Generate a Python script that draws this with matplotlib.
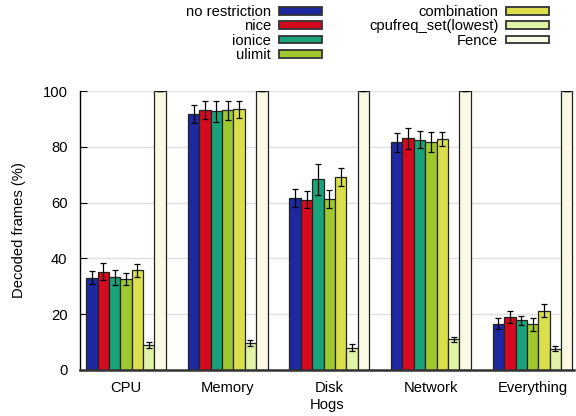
import numpy as np
import matplotlib
matplotlib.use('Agg')
import matplotlib.pyplot as plt

plt.rcParams['font.family'] = ['Liberation Sans', 'DejaVu Sans']
plt.rcParams['font.size'] = 10.6

hogs = ['CPU', 'Memory', 'Disk', 'Network', 'Everything']
series = ['no restriction', 'nice', 'ionice', 'ulimit',
          'combination', 'cpufreq_set(lowest)', 'Fence']
colors = ['#1e28a0', '#d50a1f', '#1aa37a', '#9ec82e',
          '#dbdf4b', '#e1f3a6', '#fafae4']

# decoded frames (%) per series, one value per hog
no_restriction = [33.1, 91.9, 61.6, 81.6, 16.6]
nice = [35.2, 93.1, 61.1, 83.0, 19.0]
ionice = [33.2, 92.7, 68.3, 82.6, 17.7]
ulimit = [32.5, 93.1, 61.4, 81.7, 16.4]
combination = [35.7, 93.4, 69.2, 82.8, 21.2]
cpufreq = [9.0, 9.7, 7.9, 10.9, 7.5]
fence = [100, 100, 100, 100, 100]

err_no_restriction = [2.3, 3.2, 3.2, 3.4, 2.1]
err_nice = [3.1, 3.2, 3.2, 3.6, 2.2]
err_ionice = [2.6, 3.8, 5.6, 3.0, 1.7]
err_ulimit = [2.2, 3.4, 3.2, 3.7, 2.3]
err_combination = [2.3, 3.2, 3.2, 2.4, 2.3]
err_cpufreq = [1.0, 1.1, 1.3, 1.0, 0.9]
err_fence = [0, 0, 0, 0, 0]

values = [no_restriction, nice, ionice, ulimit, combination, cpufreq, fence]
errors = [err_no_restriction, err_nice, err_ionice, err_ulimit,
          err_combination, err_cpufreq, err_fence]

fig = plt.figure(figsize=(5.76, 4.16), dpi=100)
ax = fig.add_axes([0.139, 0.111, 0.858, 0.670])

x = np.arange(len(hogs))
w = 0.112
for i in range(len(series)):
    pos = x + (i - 3) * w
    ax.bar(pos, values[i], w, color=colors[i], edgecolor='#222222',
           linewidth=0.9, label=series[i], zorder=2)
    ax.errorbar(pos, values[i], yerr=errors[i], fmt='none', ecolor='black',
                elinewidth=0.9, capsize=2.5, capthick=0.9, zorder=3)

ax.set_xlim(-0.452, 4.41)
ax.set_ylim(0, 100)
ax.set_yticks([0, 20, 40, 60, 80, 100])
ax.set_xticks(x)
ax.set_xticklabels(hogs)
ax.tick_params(axis='x', length=0, pad=8)
ax.tick_params(axis='y', direction='in', length=5, pad=9)
ax.yaxis.grid(True, color='#e0e0e0', linewidth=1, zorder=0)
ax.set_axisbelow(True)
ax.spines['top'].set_visible(False)
ax.spines['right'].set_visible(False)
ax.spines['bottom'].set_linewidth(1.8)
ax.spines['bottom'].set_color('#333333')
ax.spines['left'].set_linewidth(1.0)
ax.set_xlabel('Hogs', labelpad=2)
ax.set_ylabel('Decoded frames (%)', labelpad=12)

h, l = ax.get_legend_handles_labels()
leg = fig.legend(h, l, loc='upper center', bbox_to_anchor=(0.638, 1.006),
                 ncol=2, markerfirst=False, frameon=False,
                 handlelength=2.9, handleheight=0.45, handletextpad=0.55,
                 labelspacing=0.03, columnspacing=3.2, borderpad=0.0)
for p in leg.get_patches():
    p.set_edgecolor('#333333')
    p.set_linewidth(1.3)

fig.savefig('out.png', dpi=100)
